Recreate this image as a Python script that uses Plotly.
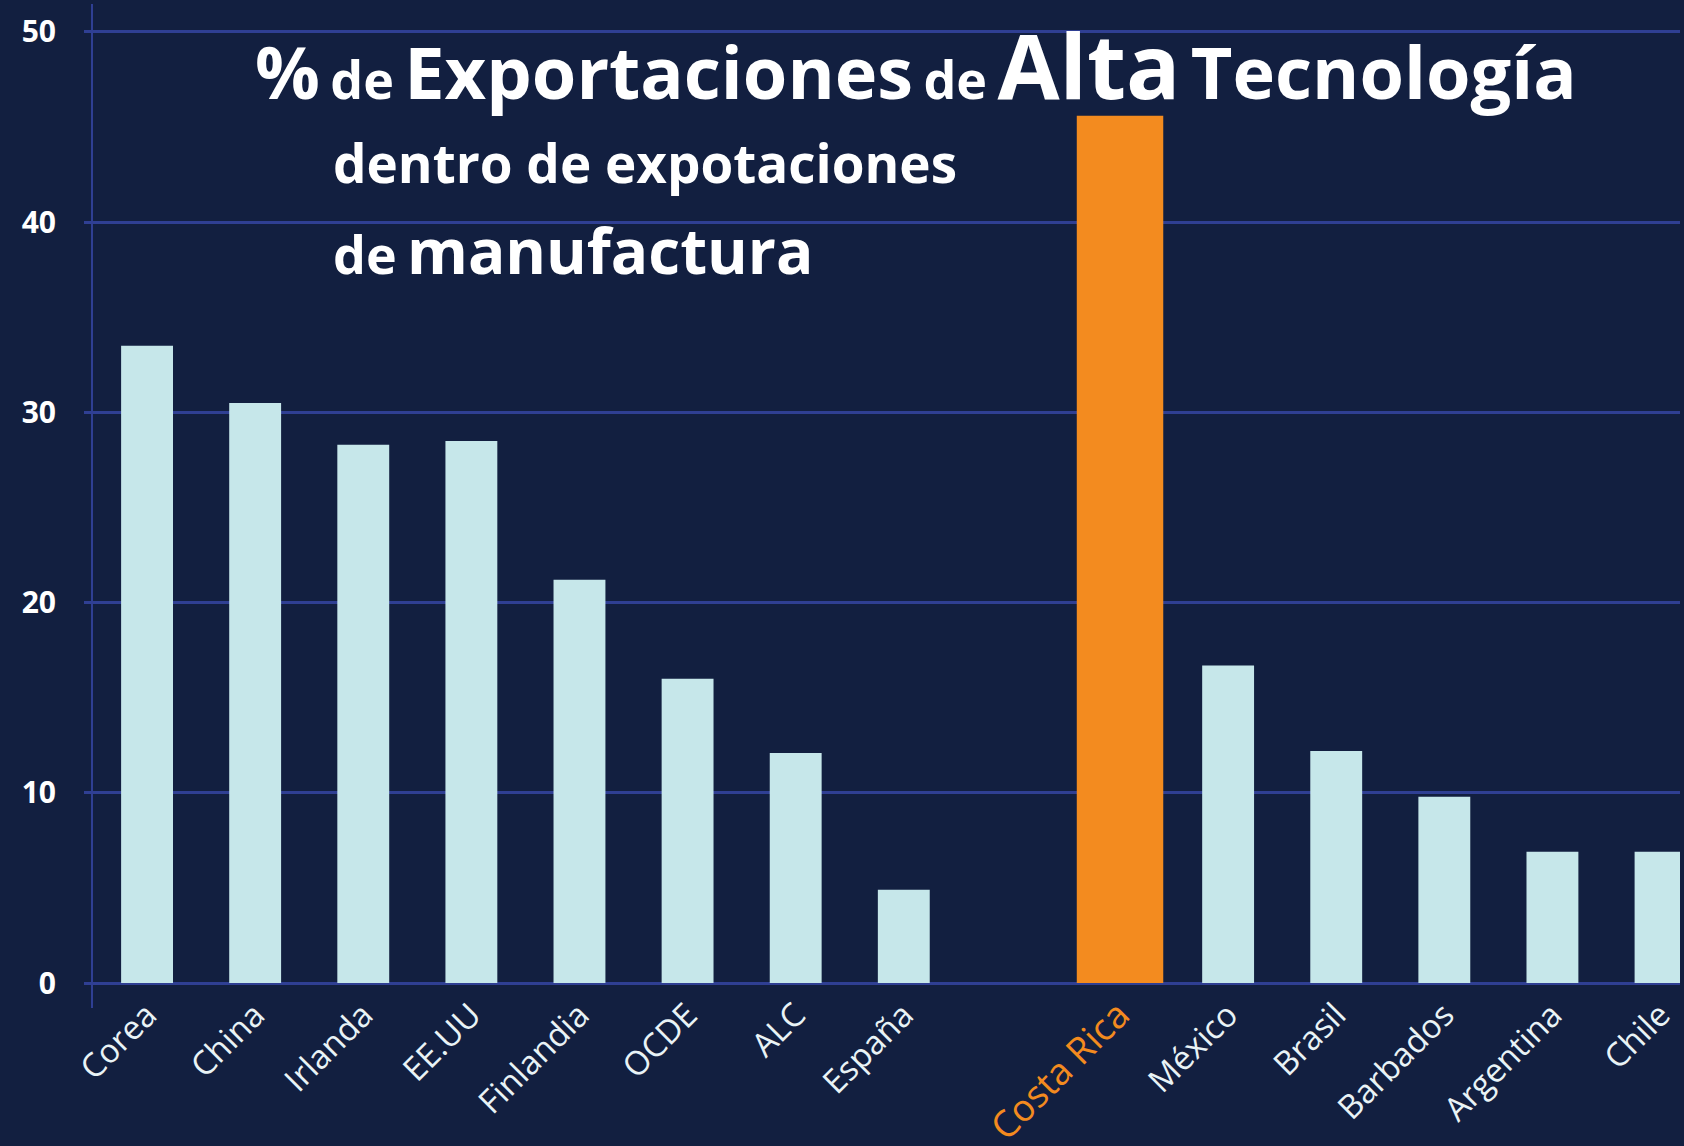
import plotly.graph_objects as go

# ---- data ----
countries = ["Corea", "China", "Irlanda", "EE.UU", "Finlandia", "OCDE", "ALC", "España",
             "Costa Rica", "México", "Brasil", "Barbados", "Argentina", "Chile"]
values = [33.5, 30.5, 28.3, 28.5, 21.2, 16.0, 12.1, 4.9,
          45.6, 16.7, 12.2, 9.8, 6.9, 6.9]
highlight = "Costa Rica"
gap_after = "España"
y_ticks = [0, 10, 20, 30, 40, 50]

# ---- styles ----
BG = "#121f40"
GRID = "#2f3f93"
BAR = "#c6e7ea"
ORANGE = "#f38b1f"
TXT = "#e9f3f6"
FONT = "Open Sans"

spacer = " "
cat_order = []
for c in countries:
    cat_order.append(c)
    if c == gap_after:
        cat_order.append(spacer)

colors = [ORANGE if c == highlight else BAR for c in countries]
widths = [0.80 if c == highlight else 0.48 for c in countries]

ticktext = []
for c in cat_order:
    if c == highlight:
        ticktext.append(f'<span style="color:{ORANGE};font-size:37px">{c}</span>')
    elif c == spacer:
        ticktext.append("")
    else:
        ticktext.append(c)

fig = go.Figure(go.Bar(x=countries, y=values, marker_color=colors, width=widths,
                       marker_line_width=0, hoverinfo="x+y"))

fig.update_layout(
    width=1684, height=1146,
    margin=dict(l=93, r=4, t=4, b=138),
    paper_bgcolor=BG, plot_bgcolor=BG,
    showlegend=False,
    bargap=0.5,
)

fig.update_xaxes(
    type="category", categoryorder="array", categoryarray=cat_order,
    tickmode="array", tickvals=cat_order, ticktext=ticktext,
    tickangle=-45, range=[-0.5, 14.18], automargin=False,
    showgrid=False, showline=False, zeroline=False, ticks="",
    tickfont=dict(family=FONT, size=33, color=TXT),
    ticklabelstandoff=-20,
)

fig.update_yaxes(
    range=[-1.31, 51.47], tickmode="array", tickvals=y_ticks, automargin=False,
    showgrid=True, gridcolor=GRID, gridwidth=3,
    zeroline=True, zerolinecolor=GRID, zerolinewidth=3,
    showline=True, linecolor=GRID, linewidth=2,
    ticks="outside", ticklen=7, tickcolor=GRID, tickwidth=3,
    tickfont=dict(family=FONT, size=30, color="white", weight="bold"),
    ticklabelstandoff=22,
)

title_html = ('<span style="font-size:72px">%</span> '
              '<span style="font-size:52px">de</span> '
              '<span style="font-size:72px">Exportaciones</span> '
              '<span style="font-size:52px">de</span> '
              '<span style="font-size:90px">Alta</span> '
              '<span style="font-size:72px">Tecnología</span>')

fig.add_annotation(text=title_html, xref="paper", yref="paper", x=0.101, y=0.877,
                   xanchor="left", yanchor="bottom", showarrow=False,
                   font=dict(family=FONT, size=40, color="white", weight="bold"))
fig.add_annotation(text='<span style="font-size:53px">dentro de expotaciones</span>',
                   xref="paper", yref="paper", x=0.150, y=0.804,
                   xanchor="left", yanchor="bottom", showarrow=False,
                   font=dict(family=FONT, size=40, color="white", weight="bold"))
fig.add_annotation(text='<span style="font-size:52px">de</span> '
                        '<span style="font-size:62px">manufactura</span>',
                   xref="paper", yref="paper", x=0.150, y=0.711,
                   xanchor="left", yanchor="bottom", showarrow=False,
                   font=dict(family=FONT, size=40, color="white", weight="bold"))

fig.write_html("out.html", config={"displayModeBar": False},
               post_script="document.body.style.margin='0';")
